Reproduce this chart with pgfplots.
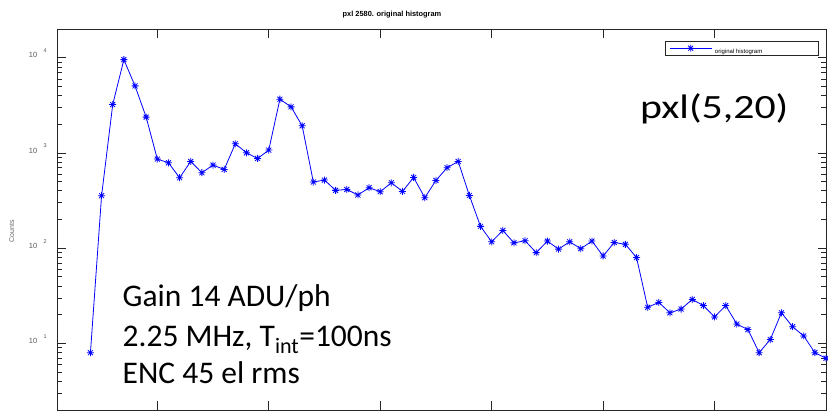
\documentclass[border=0pt]{standalone}
\usepackage{fontspec}
\setmainfont{Liberation Sans}
\newfontfamily\calibri{Carlito}
\usepackage{pgfplots}
\pgfplotsset{compat=1.18}

% eight-armed star marker (plus and cross combined)
\pgfdeclareplotmark{mstar}{%
  \pgfpathmoveto{\pgfqpoint{-\pgfplotmarksize}{0pt}}%
  \pgfpathlineto{\pgfqpoint{\pgfplotmarksize}{0pt}}%
  \pgfpathmoveto{\pgfqpoint{0pt}{-\pgfplotmarksize}}%
  \pgfpathlineto{\pgfqpoint{0pt}{\pgfplotmarksize}}%
  \pgfpathmoveto{\pgfqpoint{-0.707\pgfplotmarksize}{-0.707\pgfplotmarksize}}%
  \pgfpathlineto{\pgfqpoint{0.707\pgfplotmarksize}{0.707\pgfplotmarksize}}%
  \pgfpathmoveto{\pgfqpoint{-0.707\pgfplotmarksize}{0.707\pgfplotmarksize}}%
  \pgfpathlineto{\pgfqpoint{0.707\pgfplotmarksize}{-0.707\pgfplotmarksize}}%
  \pgfusepathqstroke}

\newcommand{\tenexp}[1]{10\hspace{6.5pt}\raisebox{5.2pt}{\fontsize{5.5}{5.5}\selectfont #1}}
\tikzset{tk/.style={black!85, line width=1pt}}

\begin{document}
\begin{tikzpicture}
\begin{axis}[
  at={(57pt,1pt)}, anchor=south west,
  scale only axis, width=769pt, height=380.7pt,
  ymode=log, xmin=-3, xmax=66, ymin=2, ymax=20000,
  xtick pos=both, ytick pos=both,
  xtick={6,16,26,36,46,56,66}, xticklabels={},
  ytick={10,100,1000,10000},
  yticklabels={\tenexp{1},\tenexp{2},\tenexp{3},\tenexp{4}},
  tick align=inside,
  major tick length=8.5pt,
  axis line style={black!85, line width=0.9pt},
  tick style={black!85, line width=1pt},
  minor x tick num=0, minor y tick num=0,
  clip=false,
  yticklabel style={anchor=base east, inner sep=0pt, xshift=-10pt,
    text=black!65, font=\fontsize{7.5}{7.5}\selectfont},
  legend style={at={(0.791,0.970)}, anchor=north west,
    draw=black!85, line width=0.9pt, fill=white,
    font=\fontsize{6}{6}\selectfont, inner xsep=3.7pt, inner ysep=0pt,
    nodes={inner sep=0pt}, column sep=3pt},
  legend image code/.code={%
    \draw[mark repeat=2, mark phase=2, #1]
      plot coordinates {(0pt,0pt) (20.85pt,0pt) (41.7pt,0pt)};},
]
% tick marks on all four sides of the box
\pgfplotsinvokeforeach{10,100,1000,10000}{
  \draw[tk] (axis cs:-3,#1) -- ++(8.5pt,0pt);
  \draw[tk] (axis cs:66,#1) -- ++(-8.5pt,0pt);
}
\pgfplotsinvokeforeach{3,4,5,6,7,8,9,20,30,40,50,60,70,80,90,
    200,300,400,500,600,700,800,900,2000,3000,4000,5000,6000,7000,8000,9000}{
  \draw[tk] (axis cs:-3,#1) -- ++(5pt,0pt);
  \draw[tk] (axis cs:66,#1) -- ++(-5pt,0pt);
}
\pgfplotsinvokeforeach{6,16,26,36,46,56}{
  \draw[tk] (axis cs:#1,20000) -- ++(0pt,-8.5pt);
  \draw[tk] (axis cs:#1,2) -- ++(0pt,8.5pt);
}
\addplot[color=blue, line width=0.8pt, mark=mstar, mark size=3.5pt,
  mark options={line width=0.8pt}] coordinates {
  (0,8) (1,357) (2,3236) (3,9600) (4,5085) (5,2388) (6,866) (7,792)
  (8,551) (9,817) (10,622) (11,749) (12,673) (13,1253) (14,1008) (15,879)
  (16,1076) (17,3687) (18,3062) (19,1935) (20,497) (21,521) (22,406) (23,415)
  (24,363) (25,433) (26,393) (27,488) (28,396) (29,555) (30,340) (31,516)
  (32,702) (33,817) (34,359) (35,170) (36,117) (37,154) (38,114) (39,120)
  (40,90) (41,119) (42,98) (43,117) (44,99) (45,119) (46,83) (47,115)
  (48,110) (49,80) (50,24) (51,27) (52,21) (53,23) (54,29) (55,25)
  (56,19) (57,25) (58,16) (59,14) (60,8) (61,11) (62,21) (63,15)
  (64,12) (65,8) (66,7)
};
\addlegendentry{\rule[-7.5pt]{0pt}{20pt}\makebox[100pt][l]{original histogram}}
\end{axis}

% title and axis label
\node[anchor=base, font=\bfseries\fontsize{7.4}{8}\selectfont]
  at (392pt,394.3pt) {pxl 2580. original histogram};
\node[rotate=90, anchor=base, text=black!60, font=\fontsize{7}{7}\selectfont]
  at (14pt,179.5pt) {Counts};

% annotations
\node[anchor=base west, inner sep=0pt, font=\calibri\fontsize{31.5}{38}\selectfont]
  at (122.5pt,104.3pt) {Gain 14 ADU/ph};
\node[anchor=base west, inner sep=0pt, font=\calibri\fontsize{31.5}{38}\selectfont]
  at (122.5pt,64.3pt) {2.25 MHz, T\textsubscript{int}=100ns};
\node[anchor=base west, inner sep=0pt, font=\calibri\fontsize{31.5}{38}\selectfont]
  at (122.5pt,27.7pt) {ENC 45 el rms};
\node[anchor=base west, inner sep=0pt, font=\calibri\fontsize{34}{40}\selectfont]
  at (640pt,292.7pt) {\scalebox{1.23}[1]{pxl(5,20)}};

\pgfresetboundingbox
\path[use as bounding box] (0pt,0pt) rectangle (828pt,411pt);
\end{tikzpicture}
\end{document}
